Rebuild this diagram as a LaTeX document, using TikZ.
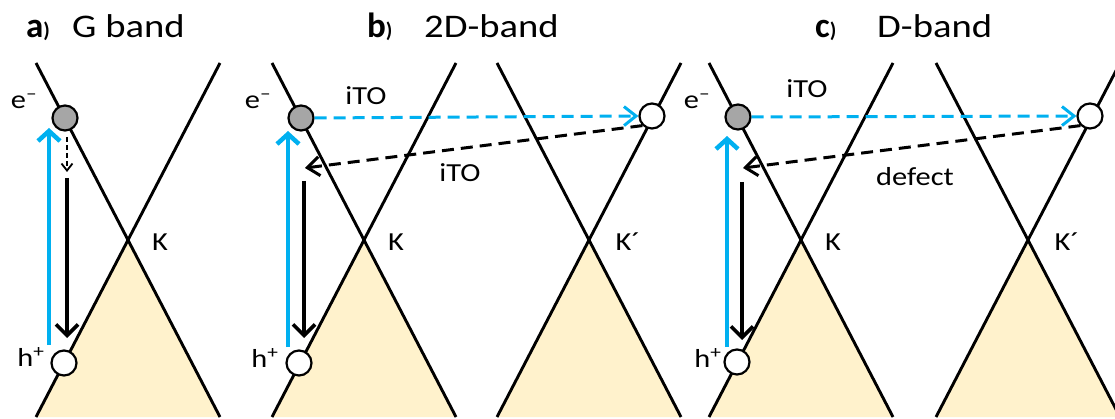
\documentclass[tikz,border=0pt]{standalone}
\usepackage{fontspec}
\setmainfont{Carlito}[FakeStretch=1.17]
\newfontfamily\tagfont{Carlito}
\usepackage{tikz}
\usetikzlibrary{positioning, arrows.meta}
\definecolor{lightblue}{RGB}{0,176,240}
\definecolor{holefill}{RGB}{255,242,204}
\definecolor{elgray}{RGB}{166,166,166}

\begin{document}
\begin{tikzpicture}[x=1pt, y=-1pt]
	\tikzset{
		band/.style={line width=2.9pt},
		carrier/.style={circle, draw, line width=2.2pt, minimum size=25pt, inner sep=0pt},
		lbl/.style={font=\fontsize{26}{26}\selectfont, inner sep=0pt},
		title/.style={font=\fontsize{33}{33}\selectfont, anchor=base west, inner sep=0pt},
		tag/.style={font=\tagfont\bfseries\fontsize{35}{35}\selectfont, anchor=base west, inner sep=0pt},
		excite/.style={draw=lightblue, line width=4.5pt, -{Straight Barb[length=10pt, width=22pt]}},
		relax/.style={draw=black, line width=3.6pt, -{Straight Barb[length=11pt, width=22pt]}},
		phonon/.style={draw=lightblue, line width=3pt, dash pattern=on 12pt off 7pt, -{Straight Barb[length=12pt, width=19pt]}},
		scatter/.style={draw=black, line width=3pt, dash pattern=on 12pt off 7pt, -{Straight Barb[length=12pt, width=19pt]}},
		smalldash/.style={draw=black, line width=1.8pt, dash pattern=on 5pt off 3pt, -{Straight Barb[length=7pt, width=11pt]}}
	}
	\useasboundingbox (0,0) rectangle (1115,419);
	\clip (0,0) rectangle (1115,419);
	
	% 能带锥
	\foreach \x [count=\i] in {128,364,589,801,1028} {
		\coordinate (K\i) at (\x,240);
		\fill[holefill] (K\i) -- (\x-92,417) -- (\x+92,417) -- cycle;
		\draw[band] (\x-92,63) -- (\x+92,417);
		\draw[band] (\x+92,63) -- (\x-92,417);
	}
	\node[lbl] (lK1) at (160,242) {K};
	\node[lbl] (lK2) at (396,242) {K};
	\node[lbl] (lK3) at (628,242) {K´};
	\node[lbl] (lK4) at (833,242) {K};
	\node[lbl] (lK5) at (1067,242) {K´};
	
	% 标题
	\node[tag] (ta) at (26,38) {a\fontsize{21}{21}\selectfont)};
	\node[tag] (tb) at (367,38) {b\fontsize{21}{21}\selectfont)};
	\node[tag] (tc) at (815,38) {c\fontsize{21}{21}\selectfont)};
	\node[title] (tta) at (72,38) {G band};
	\node[title] (ttb) at (424,38) {2D-band};
	\node[title] (ttc) at (877,38) {D-band};
	
	% 坐标
	\coordinate (bA0) at (49,345);   \coordinate (bA1) at (49,128);
	\coordinate (dA0) at (67,137);   \coordinate (dA1) at (67,172);
	\coordinate (rA0) at (67,178);   \coordinate (rA1) at (67,338);
	\coordinate (bB0) at (288,347);  \coordinate (bB1) at (288,131);
	\coordinate (rB0) at (304,181);  \coordinate (rB1) at (304,338);
	\coordinate (tB) at (305,168);
	\coordinate (bC0) at (727,347);  \coordinate (bC1) at (727,136);
	\coordinate (rC0) at (742,182);  \coordinate (rC1) at (742,340);
	\coordinate (tC) at (743,168);
	
	% 载流子
	\node[carrier, fill=elgray] (eA) at (65,118) {};
	\node[carrier, fill=white] (hA) at (64,363) {};
	\node[carrier, fill=elgray] (eB) at (301,118) {};
	\node[carrier, fill=white] (hB) at (299,363) {};
	\node[carrier, fill=white] (kB) at (652,116) {};
	\node[carrier, fill=elgray] (eC) at (738,117) {};
	\node[carrier, fill=white] (hC) at (737,362) {};
	\node[carrier, fill=white] (kC) at (1090,116) {};
	
	\node[lbl] (lEA) at (24,101) {e\textsuperscript{–}};
	\node[lbl] (lHA) at (31,357) {h\textsuperscript{+}};
	\node[lbl] (lEB) at (258,101) {e\textsuperscript{–}};
	\node[lbl] (lHB) at (265,358) {h\textsuperscript{+}};
	\node[lbl] (lEC) at (697,101) {e\textsuperscript{–}};
	\node[lbl] (lHC) at (708,358) {h\textsuperscript{+}};
	
	% 跃迁 a
	\draw[excite] (bA0) -- (bA1);
	\draw[smalldash] (dA0) -- (dA1);
	\draw[relax] (rA0) -- (rA1);
	
	% 跃迁 b
	\draw[excite] (bB0) -- (bB1);
	\draw[relax] (rB0) -- (rB1);
	\draw[phonon] (eB.east) -- (kB.west);
	\draw[scatter] (kB.225) -- (tB);
	\node[lbl] (iB1) at (366,96) {iTO};
	\node[lbl] (iB2) at (460,173) {iTO};
	
	% 跃迁 c
	\draw[excite] (bC0) -- (bC1);
	\draw[relax] (rC0) -- (rC1);
	\draw[phonon] (eC.east) -- (kC.west);
	\draw[scatter] (kC.225) -- (tC);
	\node[lbl] (iC1) at (807,89) {iTO};
	\node[lbl] (dC) at (915,177) {defect};
\end{tikzpicture}
\end{document}
